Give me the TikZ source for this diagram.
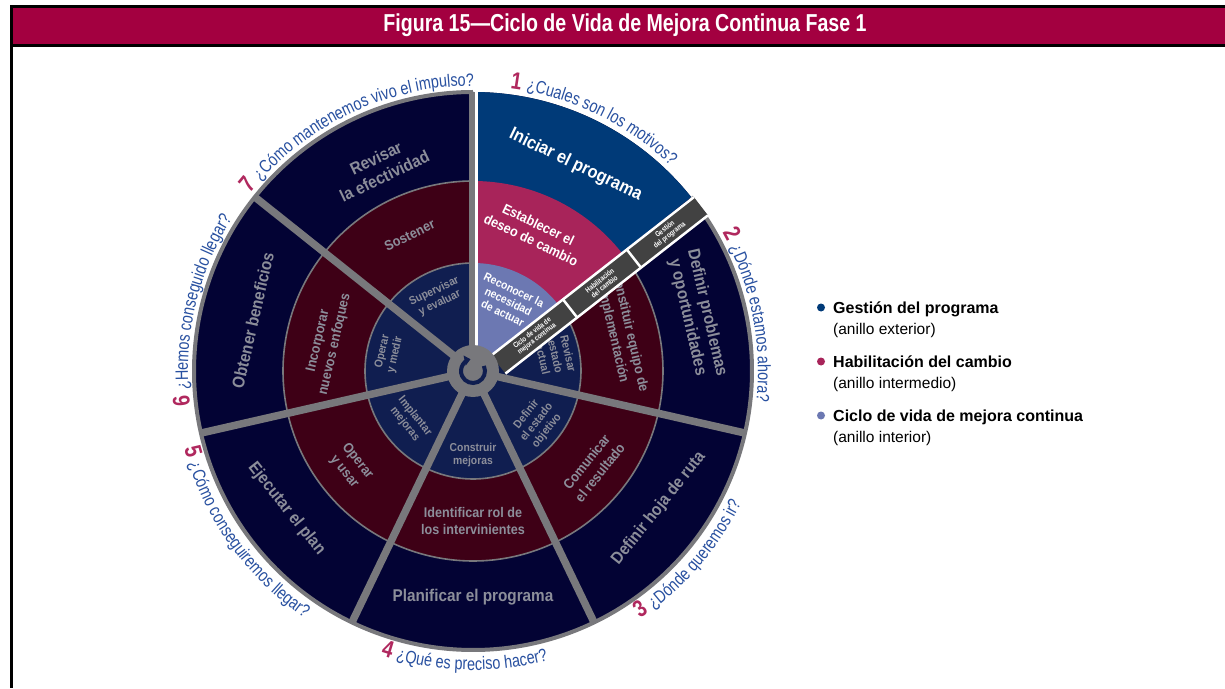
\documentclass[tikz,border=0pt]{standalone}
\usepackage{fontspec}
\setmainfont{Liberation Sans}
\newfontfamily\wheelfont[FakeStretch=0.9]{Liberation Sans}
\newfontfamily\narrowfont[FakeStretch=0.8]{Liberation Sans}
\usetikzlibrary{arrows.meta, positioning, decorations.text}

\definecolor{barred}{RGB}{163,0,64}
\definecolor{pgmblue}{RGB}{0,58,120}
\definecolor{chgred}{RGB}{168,36,90}
\definecolor{lifeblue}{RGB}{108,120,178}
\definecolor{outernavy}{RGB}{3,3,52}
\definecolor{midmaroon}{RGB}{62,0,22}
\definecolor{innerblue}{RGB}{16,30,80}
\definecolor{sepgray}{RGB}{120,120,124}
\definecolor{lblgray}{RGB}{140,142,154}
\definecolor{bandgray}{RGB}{66,66,66}
\definecolor{qblue}{RGB}{40,80,160}
\definecolor{qnum}{RGB}{176,40,94}

\tikzset{
  outerlbl/.style = {font=\wheelfont\bfseries\fontsize{17}{20}\selectfont,
                     text=lblgray, align=center, inner sep=0pt},
  midlbl/.style   = {font=\wheelfont\bfseries\fontsize{14}{17}\selectfont,
                     text=lblgray, align=center, inner sep=0pt},
  innerlbl/.style = {font=\wheelfont\bfseries\fontsize{11.5}{13}\selectfont,
                     text=lblgray, align=center, inner sep=0pt},
  bandlbl/.style  = {font=\narrowfont\bfseries\fontsize{7.5}{7.5}\selectfont,
                     text=white, align=center, inner sep=0pt},
  sep/.style      = {draw=sepgray, line width=7.5pt},
  ringline/.style = {draw=sepgray, line width=1.6pt},
  legtitle/.style = {font=\bfseries\fontsize{16}{18}\selectfont, inner sep=0pt},
  legsub/.style   = {font=\fontsize{15.5}{18}\selectfont, inner sep=0pt},
}

% question written along the rim: number, text, start, end, radius
\newcommand\askarc[5]{%
  \path[decorate, decoration={text along path, text align=left,
    text={|\narrowfont\bfseries\fontsize{24}{24}\selectfont\color{qnum}|#1 |\narrowfont\fontsize{18}{18}\selectfont\color{qblue}|#2}}]
    (#3:#5) arc[start angle=#3, end angle=#4, radius=#5];}

\begin{document}
\begin{tikzpicture}[x=1pt, y=1pt]
  \useasboundingbox (-473,-317) rectangle (752,371);
  \fill[white] (-473,-317) rectangle (752,371);

  % frame and title bar
  \fill[black] (-463,-317) rectangle (-460,366);
  \fill[black] (-463,366) rectangle (752,324);
  \fill[barred] (-460,363) rectangle (752,327);
  \node[font=\narrowfont\bfseries\fontsize{24.5}{26}\selectfont, text=white]
    (title) at (152,345.5) {Figura 15—Ciclo de Vida de Mejora Continua Fase 1};

  % rings
  \fill[outernavy] (0,0) circle[radius=279];
  \fill[midmaroon] (0,0) circle[radius=190];
  \fill[innerblue] (0,0) circle[radius=108];

  % first sector in colour
  \fill[pgmblue] (0,0) -- (90:279) arc[start angle=90, end angle=38.57, radius=279] -- cycle;
  \fill[chgred] (0,0) -- (90:190) arc[start angle=90, end angle=38.57, radius=190] -- cycle;
  \fill[lifeblue] (0,0) -- (90:108) arc[start angle=90, end angle=38.57, radius=108] -- cycle;

  \draw[ringline] (38.57:190) arc[start angle=38.57, end angle=-270, radius=190];
  \draw[ringline] (38.57:108) arc[start angle=38.57, end angle=-270, radius=108];
  \draw[sepgray, line width=4pt] (38.57:279) arc[start angle=38.57, end angle=-270, radius=279];

  % labels, sector by sector
  \node[outerlbl, text=white, rotate=-25.7, font=\wheelfont\bfseries\fontsize{18}{20}\selectfont]
    (iniciar) at (63.5:230) {Iniciar el programa};
  \node[midlbl, text=white, rotate=-25.7] (establecer) at (66:152) {Establecer el\\deseo de cambio};
  \node[innerlbl, text=white, rotate=-25.7] (reconocer) at (63:78) {Reconocer la\\necesidad\\de actuar};

  \node[outerlbl, rotate=-77] (defprob) at (14:231) {Definir problemas\\y oportunidades};
  \node[midlbl, rotate=-77] (constituir) at (14:153) {Constituir equipo de\\implementación};
  \node[innerlbl, rotate=-77] (revisarest) at (10:84) {Revisar\\estado\\actual};

  \node[outerlbl, rotate=51.4] (hoja) at (-36.5:231) {Definir hoja de ruta};
  \node[midlbl, rotate=51.4] (comunicar) at (-38.7:154) {Comunicar\\el resultado};
  \node[innerlbl, rotate=51.4] (objetivo) at (-39:82) {Definir\\el estado\\objetivo};

  \node[outerlbl] (planificar) at (-90:226) {Planificar el programa};
  \node[midlbl] (identificar) at (-90:150) {Identificar rol de\\los intervinientes};
  \node[innerlbl] (construir) at (-90:84) {Construir\\mejoras};

  \node[outerlbl, rotate=-51.4] (ejecutar) at (-143.5:232) {Ejecutar el plan};
  \node[midlbl, rotate=-51.4] (operarusar) at (-142:155) {Operar\\y usar};
  \node[innerlbl, rotate=-51.4] (implantar) at (-142:80) {Implantar\\mejoras};

  \node[outerlbl, rotate=77.1] (obtener) at (167:226) {Obtener beneficios};
  \node[midlbl, rotate=77.1] (incorporar) at (169:149) {Incorporar\\nuevos enfoques};
  \node[innerlbl, rotate=77.1] (operarmedir) at (168:86) {Operar\\y medir};

  \node[outerlbl, rotate=25.7] (efectividad) at (114.5:224) {Revisar\\la efectividad};
  \node[midlbl, rotate=25.7] (sostener) at (115:150) {Sostener};
  \node[innerlbl, rotate=25.7] (supervisar) at (116:82) {Supervisar\\y evaluar};

  % spokes
  \foreach \k in {2,...,6}
    \draw[sep] (0,0) -- ({90-\k*360/7}:279);
  \draw[sepgray, line width=6pt] (-1,0) -- (-1,279);
  \draw[white, line width=3pt] (3.5,24) -- (3.5,279);

  % band with the ring names
  \begin{scope}[rotate=38, transform shape]
    \fill[bandgray] (24,-22) rectangle (281,1);
    \draw[white, line width=2.5pt] (24,1) -- (281,1);
    \draw[white, line width=2.5pt] (24,-22) -- (281,-22);
    \draw[white, line width=2.5pt] (115,-22) -- (115,1);
    \draw[white, line width=2.5pt] (196,-22) -- (196,1);
    \node[bandlbl] (bandlife) at (70,-10.5) {Ciclo de vida de\\mejora continua};
    \node[bandlbl] (bandchg) at (155.5,-10.5) {Habilitación\\del cambio};
    \node[bandlbl] (bandpgm) at (238.5,-10.5) {Gestión\\del programa};
  \end{scope}

  % hub
  \fill[sepgray] (0,0) circle[radius=26];
  \draw[innerblue, line width=4pt, -{Triangle[length=6pt, width=10pt]}]
    (25:12) arc[start angle=25, end angle=-258, radius=12];

  % questions round the rim
  \askarc{1}{¿Cuales son los motivos?}{82.5}{20}{285}
  \askarc{2}{¿Dónde estamos ahora?}{29}{-40}{285}
  \askarc{3}{¿Dónde queremos ir?}{-56}{20}{299}
  \askarc{4}{¿Qué es preciso hacer?}{-108}{-30}{299}
  \askarc{5}{¿Cómo conseguiremos llegar?}{-165}{-80}{299}
  \askarc{6}{¿Hemos conseguido llegar?}{187}{100}{285}
  \askarc{7}{¿Cómo mantenemos vivo el impulso?}{141.5}{60}{285}

  % legend
  \foreach \clr/\ttl/\sub [count=\i from 0] in
      {pgmblue/Gestión del programa/anillo exterior,
       chgred/Habilitación del cambio/anillo intermedio,
       lifeblue/Ciclo de vida de mejora continua/anillo interior} {
    \fill[\clr] (348,{63.5-54*\i}) circle[radius=4];
    \node[legtitle, anchor=base west] (leg\i) at (360,{58-54*\i}) {\ttl};
    \node[legsub, anchor=base west] (sub\i) at (360,{37-54*\i}) {(\sub)};
  }
\end{tikzpicture}
\end{document}
